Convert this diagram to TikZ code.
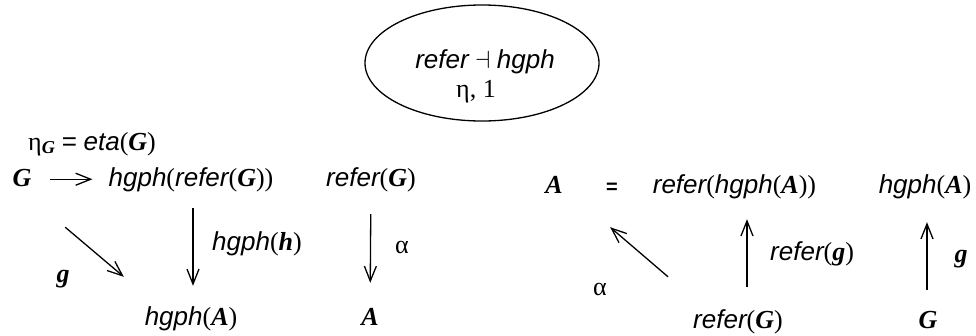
\documentclass[tikz,border=0pt]{standalone}
\usepackage{fontspec}
\setmainfont{Liberation Serif}
\setsansfont{Liberation Sans}
\usetikzlibrary{arrows.meta,shapes.geometric}

\newcommand{\fname}[1]{{\sffamily\itshape #1}}
\newcommand{\bvar}[1]{{\bfseries\itshape #1}}

\tikzset{
  lbl/.style={inner sep=0pt, text height=19pt, text depth=5.5pt, anchor=base},
  arr/.style={line width=1.3pt, -{Straight Barb[length=15pt,width=12pt]}},
}

\begin{document}
\begin{tikzpicture}[x=1pt, y=-1pt, every node/.style={font=\fontsize{26}{30}\selectfont}]
    \useasboundingbox (0,0) rectangle (976,335);
    % the adjunction
    \node[draw, ellipse, line width=1.3pt, inner sep=0pt, minimum width=234pt, minimum height=116pt] (adj) at (482,63) {};
    \node[lbl] (adjname) at (485,68) {\fname{refer} $\dashv$ \fname{hgph}};
    \node[lbl] (adjunit) at (476,97) {η, 1};

    % left square: unit
    \node[lbl, anchor=base west] (etaG) at (28,150) {η\textsubscript{\bvar{G}} {\sffamily =} \fname{eta}(\bvar{G})};
    \node[lbl] (G) at (22,186) {\bvar{G}};
    \node[lbl] (hrG) at (191,186) {\fname{hgph}(\fname{refer}(\bvar{G}))};
    \node[lbl] (rG) at (371,186) {\fname{refer}(\bvar{G})};
    \node[lbl] (hA) at (191,325) {\fname{hgph}(\bvar{A})};
    \node[lbl] (A) at (370,325) {\bvar{A}};
    \node[lbl] (gl) at (63,282) {\bvar{g}};
    \node[lbl, anchor=base west] (hhl) at (212,250) {\fname{hgph}(\bvar{h})};
    \node[lbl] (al) at (402,253) {α};
    \draw[arr, shorten <=18.6pt, shorten >=16pt] (G) -- (hrG);
    \draw[arr] ([shift={(33.6,35.5)}]G.south east) -- ([shift={(-20.75,-29)}]hA.north west);
    \draw[arr, shorten <=16.5pt, shorten >=20pt] ([xshift=2pt]hrG.south) -- ([xshift=2pt]hA.north);
    \draw[arr, shorten <=22.5pt, shorten >=23pt] (rG) -- (A);

    % right square: counit
    \node[lbl] (A2) at (554,193) {\bvar{A}};
    \node[lbl, font=\fontsize{20}{24}\selectfont\sffamily\bfseries] (eq) at (612,193) {=};
    \node[lbl] (rhA) at (734.5,193) {\fname{refer}(\fname{hgph}(\bvar{A}))};
    \node[lbl] (hA2) at (925,193) {\fname{hgph}(\bvar{A})};
    \node[lbl] (rG2) at (738,328) {\fname{refer}(\bvar{G})};
    \node[lbl] (G2) at (928,328) {\bvar{G}};
    \node[lbl] (al2) at (600,295) {α};
    \node[lbl, anchor=base west] (rgl) at (770,260) {\fname{refer}(\bvar{g})};
    \node[lbl] (gl2) at (961,262) {\bvar{g}};
    \draw[arr] ([shift={(-25,-32)}]rG2.north west) -- ([shift={(47.3,28.5)}]A2.south east);
    \draw[arr, shorten <=22pt, shorten >=20.5pt] ([xshift=9pt]rG2.north) -- ([xshift=12.5pt]rhA.south);
    \draw[arr, shorten <=19pt, shorten >=23.5pt] ([xshift=-1pt]G2.north) -- ([xshift=2pt]hA2.south);
\end{tikzpicture}
\end{document}
